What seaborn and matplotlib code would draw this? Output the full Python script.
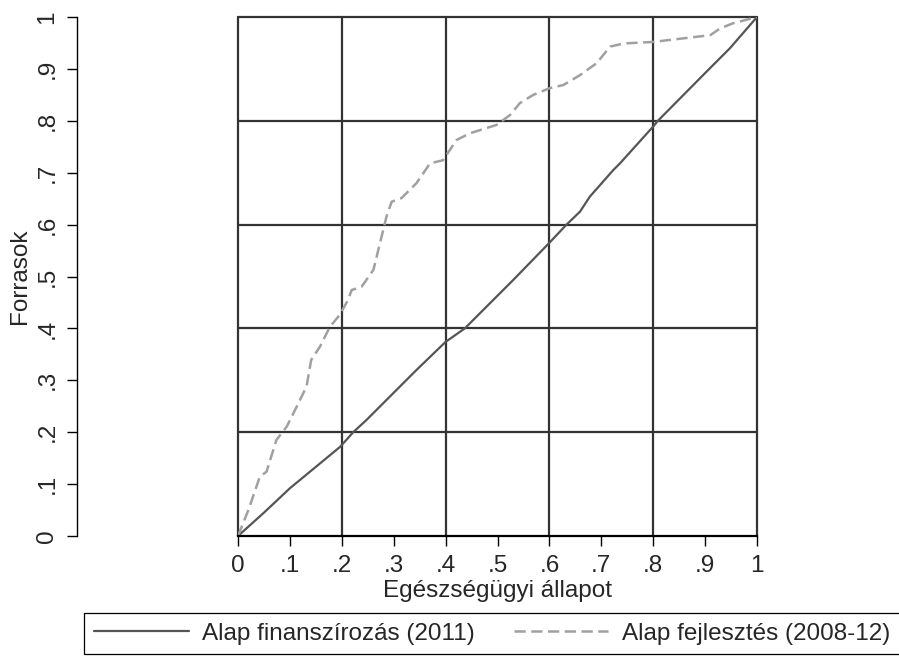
import matplotlib
matplotlib.use("Agg")
import matplotlib.pyplot as plt
import seaborn as sns
import pandas as pd

# ---- data ----
fin_x = [0.0, 0.05, 0.10, 0.197, 0.222, 0.248, 0.305, 0.344, 0.40, 0.437, 0.498, 0.53,
         0.60, 0.633, 0.659, 0.678, 0.723, 0.736, 0.80, 0.809, 0.909, 0.948, 1.0]
fin_y = [0.0, 0.045, 0.092, 0.172, 0.20, 0.224, 0.281, 0.320, 0.374, 0.40, 0.461, 0.493,
         0.565, 0.60, 0.625, 0.654, 0.705, 0.718, 0.789, 0.80, 0.901, 0.940, 1.0]

fej_x = [0.0, 0.02, 0.042, 0.055, 0.074, 0.094, 0.113, 0.132, 0.141, 0.158, 0.177, 0.196,
         0.212, 0.219, 0.238, 0.261, 0.286, 0.296, 0.315, 0.344, 0.37, 0.395, 0.421, 0.447,
         0.498, 0.524, 0.543, 0.569, 0.601, 0.627, 0.659, 0.691, 0.717, 0.743, 0.80, 0.91,
         0.929, 0.954, 1.0]
fej_y = [0.0, 0.05, 0.114, 0.124, 0.185, 0.211, 0.249, 0.288, 0.339, 0.365, 0.403, 0.426,
         0.455, 0.474, 0.48, 0.513, 0.615, 0.644, 0.651, 0.68, 0.718, 0.724, 0.763, 0.776,
         0.792, 0.811, 0.834, 0.85, 0.863, 0.869, 0.888, 0.911, 0.943, 0.949, 0.952, 0.965,
         0.978, 0.988, 1.0]

series_labels = ["Alap finanszírozás (2011)", "Alap fejlesztés (2008-12)"]
tick_values = [0.0, 0.1, 0.2, 0.3, 0.4, 0.5, 0.6, 0.7, 0.8, 0.9, 1.0]
tick_labels = ["0", ".1", ".2", ".3", ".4", ".5", ".6", ".7", ".8", ".9", "1"]
grid_values = [0.0, 0.2, 0.4, 0.6, 0.8, 1.0]
x_title = "Egészségügyi állapot"
y_title = "Forrasok"

# ---- style ----
sns.set_style("white")
plt.rcParams["font.family"] = ["Liberation Sans", "DejaVu Sans"]
FS = 17.5

W, H = 899, 656
fig = plt.figure(figsize=(W / 100, H / 100), dpi=100)
ax = fig.add_axes([238 / W, (H - 536) / H, 519 / W, 519 / H])

df_fin = pd.DataFrame({"x": fin_x, "y": fin_y})
df_fej = pd.DataFrame({"x": fej_x, "y": fej_y})

# grid (drawn first)
for g in grid_values:
    ax.axvline(g, color="#333333", lw=1.6, zorder=1, clip_on=False)
    if g > 0:
        ax.axhline(g, color="#333333", lw=1.6, zorder=1, clip_on=False)

sns.lineplot(data=df_fin, x="x", y="y", ax=ax, color="#555555", lw=1.6,
             label=series_labels[0], sort=False, zorder=3, legend=False)
sns.lineplot(data=df_fej, x="x", y="y", ax=ax, color="#a0a0a0", lw=1.8,
             linestyle=(0, (4.5, 2.2)), label=series_labels[1], sort=False,
             zorder=3, legend=False)

ax.set_xlim(0, 1)
ax.set_ylim(0, 1)
ax.margins(0)

for s in ["top", "right"]:
    ax.spines[s].set_visible(False)
ax.spines["bottom"].set_color("black")
ax.spines["bottom"].set_linewidth(1.6)
ax.spines["bottom"].set_zorder(4)
ax.spines["left"].set_color("black")
ax.spines["left"].set_linewidth(1.0)
ax.spines["left"].set_position(("outward", 161 * 0.72))

ax.set_xticks(tick_values)
ax.set_xticklabels(tick_labels, fontsize=FS)
ax.set_yticks(tick_values)
ax.set_yticklabels(tick_labels, fontsize=FS, rotation=90, va="center")
ax.tick_params(axis="x", direction="out", length=7.5, width=1.0, color="black",
               pad=6, bottom=True)
ax.tick_params(axis="y", direction="out", length=7.5, width=1.0, color="black",
               pad=6, left=True)

ax.set_xlabel(x_title, fontsize=FS, labelpad=2)
ax.set_ylabel(y_title, fontsize=FS, labelpad=4)

handles, labels = ax.get_legend_handles_labels()
leg = fig.legend(handles, labels, loc="upper left",
                 bbox_to_anchor=(84 / W, 1 - 613 / H), ncol=2, fontsize=FS,
                 frameon=True, fancybox=False, edgecolor="black",
                 handlelength=3.9, handletextpad=0.55, columnspacing=1.6,
                 borderpad=0.4, borderaxespad=0)
leg.get_frame().set_linewidth(0.9)
leg.get_frame().set_alpha(1)

fig.savefig("out.png", dpi=100, facecolor="white")
